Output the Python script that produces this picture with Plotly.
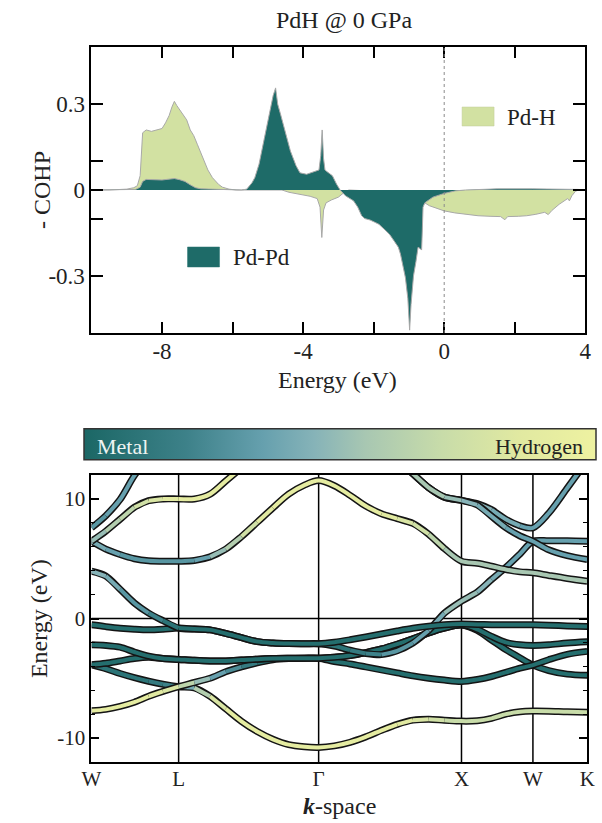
import plotly.graph_objects as go
from plotly.colors import sample_colorscale

# ---------------- COHP data (top panel) ----------------
pdh_energy = [-10, -9.5, -9.0, -8.8, -8.7, -8.62, -8.55, -8.45, -8.3, -8.15, -8.0, -7.9, -7.8, -7.72,
              -7.65, -7.58, -7.5, -7.4, -7.3, -7.2, -7.1, -7.0, -6.85, -6.7, -6.57, -6.4, -6.29, -6.1,
              -5.9, -5.6, -5.0, -4.6, -4.4, -4.1, -3.8, -3.6, -3.52, -3.47, -3.42, -3.35, -3.2, -3.0,
              -2.9, -2.8, -2.7, -2.0, -1.0, -0.7, -0.6, -0.55, -0.42, -0.2, 0.0, 0.3, 0.6, 0.96, 1.3,
              1.6, 1.72, 1.8, 2.1, 2.34, 2.6, 2.85, 2.95, 3.05, 3.26, 3.4, 3.5, 3.55, 3.62, 3.72, 3.8, 4.0]
pdh_cohp = [0, 0, 0.003, 0.008, 0.015, 0.05, 0.2, 0.21, 0.205, 0.21, 0.215, 0.235, 0.26, 0.29,
            0.31, 0.295, 0.28, 0.262, 0.245, 0.21, 0.19, 0.16, 0.113, 0.07, 0.043, 0.02, 0.01, 0.003,
            0, 0, 0, 0, -0.008, -0.015, -0.022, -0.03, -0.06, -0.166, -0.07, -0.045, -0.035, -0.025,
            -0.015, -0.005, 0, -0.005, -0.01, -0.02, -0.04, -0.045, -0.055, -0.065, -0.073, -0.08, -0.085, -0.09, -0.092,
            -0.093, -0.104, -0.093, -0.092, -0.09, -0.085, -0.078, -0.086, -0.072, -0.05, -0.04, -0.03, -0.038, -0.02, -0.005, 0, 0]

pdpd_energy = [-10, -9.0, -8.75, -8.62, -8.55, -8.45, -8.2, -8.0, -7.8, -7.65, -7.5, -7.35, -7.2, -7.05,
               -6.9, -6.5, -6.0, -5.75, -5.6, -5.45, -5.37, -5.25, -5.1, -4.95, -4.85, -4.78, -4.72,
               -4.64, -4.5, -4.36, -4.2, -4.09, -3.9, -3.7, -3.55, -3.5, -3.46, -3.42, -3.38, -3.3,
               -3.17, -3.05, -2.95, -2.8, -2.57, -2.45, -2.34, -2.25, -2.1, -1.98, -1.85, -1.7, -1.55,
               -1.42, -1.3, -1.24, -1.15, -1.1, -1.03, -0.98, -0.94, -0.87, -0.8, -0.74, -0.68, -0.64,
               -0.62, -0.6, -0.55, -0.32, 0.0, 0.32, 0.6, 1.0, 1.5, 2.5, 3.5, 3.8, 4.0]
pdpd_cohp = [0, 0, 0.002, 0.01, 0.03, 0.037, 0.037, 0.035, 0.038, 0.04, 0.036, 0.03, 0.018, 0.008,
             0.004, 0.003, 0.002, 0.0, 0.003, 0.025, 0.043, 0.09, 0.18, 0.27, 0.33, 0.357, 0.3,
             0.265, 0.2, 0.136, 0.085, 0.06, 0.055, 0.065, 0.07, 0.12, 0.21, 0.11, 0.07, 0.062,
             0.05, 0.02, 0.0, -0.02, -0.038, -0.06, -0.09, -0.1, -0.105, -0.112, -0.12, -0.137, -0.155,
             -0.178, -0.2, -0.224, -0.27, -0.306, -0.38, -0.49, -0.4, -0.3, -0.25, -0.2, -0.205, -0.21,
             -0.14, -0.06, -0.045, -0.025, -0.012, -0.003, 0.0, 0.002, 0.004, 0.004, 0.004, 0.002, 0]

# ---------------- band structure data (bottom panel) ----------------
kpath_labels = ["W", "L", "Γ", "X", "W", "K"]
kpath_pos = [0, 0.61, 1.59, 2.59, 3.09, 3.47]
k_grid = [0, 0.1, 0.2, 0.3, 0.4, 0.5, 0.61,
          0.72, 0.83, 0.94, 1.05, 1.16, 1.27, 1.38, 1.49, 1.59,
          1.7, 1.81, 1.92, 2.03, 2.14, 2.25, 2.36, 2.47, 2.59,
          2.7, 2.8, 2.9, 3.0, 3.09,
          3.2, 3.33, 3.47]

N = None
band_energies = {
    "b6": [-3.87, -4.2, -4.6, -4.95, -5.25, -5.5, -5.7,
           -5.8, -6.5, -7.55, -8.6, -9.45, -10.1, -10.55, -10.73, -10.78,
           -10.65, -10.35, -9.9, -9.35, -8.85, -8.5, -8.42, -8.5, -8.58,
           -8.55, -8.35, -8.0, -7.8, -7.74,
           -7.75, -7.8, -7.83],
    "b5": [-7.71, -7.6, -7.35, -7.0, -6.5, -6.1, -5.7,
           -5.35, -5.0, -4.45, -4.05, -3.7, -3.45, -3.35, -3.32, -3.32,
           -3.25, -3.1, -2.85, -2.55, -2.15, -1.7, -1.2, -0.8, -0.55,
           -1.0, -1.8, -2.6, -3.3, -3.9,
           -4.35, -4.65, -4.75],
    "b4": [-3.87, -3.75, -3.55, -3.35, -3.25, -3.35, -3.42,
           -3.5, -3.55, -3.55, -3.48, -3.4, -3.35, -3.33, -3.32, -3.32,
           -3.6, -3.8, -4.05, -4.3, -4.55, -4.8, -5.0, -5.15, -5.26,
           -5.1, -4.85, -4.5, -4.15, -3.9,
           -3.45, -3.0, -2.75],
    "b3": [-2.2, -2.25, -2.4, -2.8, -3.15, -3.35, -3.42,
           -3.5, -3.55, -3.55, -3.48, -3.4, -3.35, -3.33, -3.32, -3.32,
           -3.25, -3.1, -2.85, -2.55, -2.15, -1.7, -1.2, -0.8, -0.55,
           -0.9, -1.5, -2.0, -2.2, -2.25,
           -2.2, -2.05, -1.95],
    "b2": [-0.53, -0.68, -0.81, -0.9, -0.95, -0.9, -0.8,
           -0.88, -0.95, -1.25, -1.6, -1.93, -2.05, -2.1, -2.11, -2.11,
           -2.3, -2.65, -2.92, -3.02, -2.7, -2.05, -1.0, 0.45, 1.45,
           2.2, 3.26, 4.27, 5.4, 6.46,
           6.5, 6.5, 6.46],
    "b1": [3.95, 3.55, 2.45, 1.3, 0.45, -0.18, -0.8,
           -0.88, -0.95, -1.25, -1.6, -1.93, -2.05, -2.1, -2.11, -2.11,
           -1.98, -1.78, -1.55, -1.3, -1.05, -0.82, -0.65, -0.52, -0.47,
           -0.5, -0.52, -0.53, -0.53, -0.53,
           -0.56, -0.62, -0.67],
    "b7": [6.46, 5.8, 5.35, 5.0, 4.82, 4.79, 4.79,
           4.85, 5.15, 5.8, 6.85, 8.05, 9.25, 10.4, 11.15, 11.53,
           11.1, 10.3, 9.4, 8.75, 8.35, 7.95, 7.05, 5.85, 4.79,
           4.62, 4.37, 4.1, 3.9, 3.82,
           3.6, 3.35, 3.12],
    "b8": [6.46, 7.3, 8.3, 9.3, 9.85, 10.0, 10.0,
           10.0, 10.4, 11.5, 12.6, N, N, N, N, N,
           N, N, N, N, N, N, N, N, N,
           N, N, N, N, N,
           N, N, N],
    "b9": [7.58, 8.6, 9.95, 11.95, 13.5, N, N,
           N, N, N, N, N, N, N, N, N,
           N, N, N, N, N, N, N, N, N,
           N, N, N, N, N,
           N, N, N],
    "b10": [N, N, N, N, N, N, N,
            N, N, N, N, N, N, N, N, N,
            N, N, N, N, 13.2, 12.1, 10.95, 10.15, 9.88,
            9.6, 9.1, 8.3, 7.75, 7.58,
            8.8, 10.9, 13.2],
    "b11": [N, N, N, N, N, N, N,
            N, N, N, N, N, N, N, N, N,
            N, N, N, N, 13.2, 12.1, 10.95, 10.15, 9.88,
            9.5, 8.55, 7.6, 6.9, 6.46,
            5.75, 5.26, 4.93],
}

# hydrogen character of each band (0 = metal, 1 = hydrogen)
band_hydrogen = {
    "b6": [0.08, 0.08, 0.1, 0.1, 0.12, 0.15, 0.3,
           0.5, 0.75, 0.88, 0.92, 0.92, 0.92, 0.92, 0.92, 0.92,
           0.92, 0.92, 0.92, 0.92, 0.9, 0.82, 0.75, 0.72, 0.72,
           0.7, 0.7, 0.7, 0.7, 0.7,
           0.7, 0.7, 0.7],
    "b5": [0.92, 0.92, 0.92, 0.9, 0.88, 0.85, 0.75,
           0.55, 0.4, 0.3, 0.2, 0.12, 0.08, 0.05, 0.05, 0.05,
           0.05, 0.05, 0.05, 0.05, 0.05, 0.05, 0.05, 0.05, 0.05,
           0.05, 0.05, 0.05, 0.05, 0.05,
           0.05, 0.05, 0.05],
    "b4": [0.05] * 33,
    "b3": [0.05] * 33,
    "b2": [0.05, 0.05, 0.05, 0.05, 0.05, 0.05, 0.05,
           0.05, 0.05, 0.05, 0.05, 0.05, 0.05, 0.05, 0.05, 0.05,
           0.1, 0.15, 0.2, 0.25, 0.3, 0.32, 0.35, 0.45, 0.55,
           0.5, 0.4, 0.35, 0.35, 0.35,
           0.35, 0.35, 0.35],
    "b1": [0.5, 0.42, 0.35, 0.3, 0.25, 0.15, 0.08,
           0.05, 0.05, 0.05, 0.05, 0.05, 0.05, 0.05, 0.05, 0.05,
           0.05, 0.05, 0.05, 0.05, 0.05, 0.05, 0.05, 0.05, 0.05,
           0.05, 0.05, 0.05, 0.05, 0.05,
           0.05, 0.05, 0.05],
    "b7": [0.45, 0.35, 0.32, 0.3, 0.3, 0.3, 0.3,
           0.32, 0.4, 0.55, 0.7, 0.82, 0.88, 0.9, 0.92, 0.92,
           0.92, 0.92, 0.9, 0.88, 0.85, 0.8, 0.7, 0.6, 0.55,
           0.55, 0.55, 0.55, 0.55, 0.55,
           0.55, 0.55, 0.52],
    "b8": [0.5, 0.55, 0.62, 0.7, 0.8, 0.85, 0.88,
           0.9, 0.9, 0.9, 0.9, N, N, N, N, N,
           N, N, N, N, N, N, N, N, N,
           N, N, N, N, N,
           N, N, N],
    "b9": [0.32, 0.33, 0.35, 0.35, 0.35, N, N,
           N, N, N, N, N, N, N, N, N,
           N, N, N, N, N, N, N, N, N,
           N, N, N, N, N,
           N, N, N],
    "b10": [N, N, N, N, N, N, N,
            N, N, N, N, N, N, N, N, N,
            N, N, N, N, 0.55, 0.55, 0.55, 0.55, 0.55,
            0.5, 0.45, 0.4, 0.38, 0.35,
            0.35, 0.35, 0.35],
    "b11": [N, N, N, N, N, N, N,
            N, N, N, N, N, N, N, N, N,
            N, N, N, N, 0.55, 0.55, 0.55, 0.55, 0.5,
            0.45, 0.4, 0.38, 0.35, 0.35,
            0.35, 0.35, 0.35],
}
band_order = ["b6", "b5", "b4", "b3", "b2", "b1", "b7", "b8", "b9", "b10", "b11"]

# ---------------- styling ----------------
FONT = "Liberation Serif"
W, H = 602, 823
metal_h_scale = [[0.0, "#1b6765"], [0.2, "#3d8189"], [0.35, "#66a0ae"], [0.45, "#86b3b8"],
                 [0.55, "#a8c7b2"], [0.7, "#c8dca9"], [0.85, "#e1e9a1"], [1.0, "#eef2a1"]]


def px_x(p):
    return p / W


def px_y(p):
    return 1 - p / H


fig = go.Figure()

# COHP fills
fig.add_trace(go.Scatter(x=pdh_energy, y=pdh_cohp, mode="lines", fill="tozeroy",
                         fillcolor="#d2e1a2", line=dict(color="#a8a8a8", width=1),
                         xaxis="x", yaxis="y", showlegend=False, hoverinfo="skip"))
fig.add_trace(go.Scatter(x=pdpd_energy, y=pdpd_cohp, mode="lines", fill="tozeroy",
                         fillcolor="#1e6b68", line=dict(color="#a8a8a8", width=1),
                         xaxis="x", yaxis="y", showlegend=False, hoverinfo="skip"))

# bands
for name in band_order:
    E = band_energies[name]
    Hh = band_hydrogen[name]
    fig.add_trace(go.Scatter(x=k_grid, y=E, mode="lines",
                             line=dict(color="#141414", width=7, shape="spline", smoothing=0.9),
                             xaxis="x2", yaxis="y2", showlegend=False, hoverinfo="skip"))
    runs = []
    cur = None
    for i in range(len(E) - 1):
        if E[i] is None or E[i + 1] is None:
            cur = None
            continue
        q = round(((Hh[i] + Hh[i + 1]) / 2) / 0.05) * 0.05
        if cur is not None and abs(cur[0] - q) < 1e-9:
            cur[1].append(i + 1)
        else:
            cur = [q, [i, i + 1]]
            runs.append(cur)
    for q, idx in runs:
        col = sample_colorscale(metal_h_scale, [min(max(q, 0), 1)])[0]
        fig.add_trace(go.Scatter(x=[k_grid[j] for j in idx], y=[E[j] for j in idx], mode="lines",
                                 line=dict(color=col, width=4, shape="spline", smoothing=0.9),
                                 xaxis="x2", yaxis="y2", showlegend=False, hoverinfo="skip"))

# colour bar carrier (invisible markers carrying hydrogen character)
fig.add_trace(go.Scatter(
    x=k_grid, y=band_energies["b6"], mode="markers", xaxis="x2", yaxis="y2",
    marker=dict(color=band_hydrogen["b6"], colorscale=metal_h_scale, cmin=0, cmax=1, opacity=0, size=1,
                showscale=True,
                colorbar=dict(orientation="h", lenmode="pixels", len=512, thickness=31,
                              thicknessmode="pixels", x=px_x(340), xanchor="center",
                              y=px_y(445.5), yanchor="middle", xpad=0, ypad=0,
                              outlinewidth=1.5, outlinecolor="#333333", showticklabels=False,
                              ticks="")),
    showlegend=False, hoverinfo="skip"))

tickfont = dict(family=FONT, size=23, color="#222")
fig.update_layout(
    width=W, height=H, margin=dict(l=0, r=0, t=0, b=0),
    paper_bgcolor="white", plot_bgcolor="white",
    font=dict(family=FONT, color="#222"),
    xaxis=dict(domain=[px_x(84), px_x(593)], range=[-10, 4], showgrid=False, zeroline=False,
               showline=True, linecolor="black", linewidth=2, mirror="allticks",
               ticks="inside", ticklen=11, tickwidth=1.5, tickcolor="black",
               tickvals=[-8, -6, -4, -2, 0, 2, 4], ticktext=["-8", "", "-4", "", "0", "", "4"],
               tickfont=tickfont, ticklabelstandoff=-4, anchor="y"),
    yaxis=dict(domain=[px_y(333), px_y(47)], range=[-0.5, 0.5], showgrid=False, zeroline=False,
               showline=True, linecolor="black", linewidth=2, mirror="allticks",
               ticks="inside", ticklen=12, tickwidth=1.5, tickcolor="black",
               tickvals=[-0.3, -0.1, 0, 0.1, 0.3], ticktext=["-0.3", "", "0", "", "0.3"],
               tickfont=tickfont, anchor="x"),
    xaxis2=dict(domain=[px_x(84), px_x(595)], range=[0, 3.47], showgrid=False, zeroline=False,
                showline=True, linecolor="black", linewidth=2, mirror=True,
                ticks="", tickvals=kpath_pos, ticktext=kpath_labels, ticklabelstandoff=-3,
                tickfont=dict(family=FONT, size=21, color="#222"), anchor="y2"),
    yaxis2=dict(domain=[px_y(762), px_y(475)], range=[-12, 12], showgrid=False, zeroline=False,
                showline=True, linecolor="black", linewidth=2, mirror="allticks",
                ticks="inside", ticklen=8, tickwidth=1.5, tickcolor="black",
                tickvals=[-10, 0, 10], ticktext=["-10", "0", "10"],
                minor=dict(ticks="inside", ticklen=4, tickwidth=1.2, tickcolor="black", dtick=2, tick0=0),
                tickfont=dict(family=FONT, size=21, color="#222"), anchor="x2"),
)

# reference lines
fig.add_shape(type="line", xref="x", yref="y domain", x0=0, x1=0, y0=0, y1=1,
              line=dict(color="#8a8a8a", width=1, dash="dot"))
for kp in kpath_pos[1:-1]:
    fig.add_shape(type="line", xref="x2", yref="y2 domain", x0=kp, x1=kp, y0=0, y1=1,
                  line=dict(color="black", width=1.5), layer="below")
fig.add_shape(type="line", xref="x2 domain", yref="y2", x0=0, x1=1, y0=0, y1=0,
              line=dict(color="black", width=1.5), layer="below")

# legend swatches
fig.add_shape(type="rect", xref="x domain", yref="y domain", x0=0.7505, x1=0.8153, y0=0.7238, y1=0.7902,
              fillcolor="#d2e1a2", line=dict(color="#c0cc98", width=0.5))
fig.add_shape(type="rect", xref="x domain", yref="y domain", x0=0.1945, x1=0.2593, y0=0.2308, y1=0.3007,
              fillcolor="#1e6b68", line=dict(color="#2a7572", width=0.5))

ann = [
    dict(text="PdH @ 0 GPa", x=px_x(344), y=px_y(20), size=24),
    dict(text="Pd-H", x=px_x(510), y=px_y(117), size=23, xanchor="left"),
    dict(text="Pd-Pd", x=px_x(228), y=px_y(257), size=23, xanchor="left"),
    dict(text="- COHP", x=px_x(33), y=px_y(190), size=24, textangle=-90),
    dict(text="Energy (eV)", x=px_x(338), y=px_y(380), size=24),
    dict(text="Energy (eV)", x=px_x(30), y=px_y(619), size=24, textangle=-90),
    dict(text="<b><i>k</i></b>-space", x=px_x(340), y=px_y(806), size=24),
    dict(text="Metal", x=px_x(88), y=px_y(446), size=22, xanchor="left", color="#eef4f2"),
    dict(text="Hydrogen", x=px_x(593), y=px_y(446), size=22, xanchor="right", color="#222"),
]
for a in ann:
    fig.add_annotation(text=a["text"], x=a["x"], y=a["y"], xref="paper", yref="paper",
                       xanchor=a.get("xanchor", "center"), yanchor="middle",
                       textangle=a.get("textangle", 0), showarrow=False,
                       font=dict(family=FONT, size=a["size"], color=a.get("color", "#222")))

fig.write_html("out.html")
